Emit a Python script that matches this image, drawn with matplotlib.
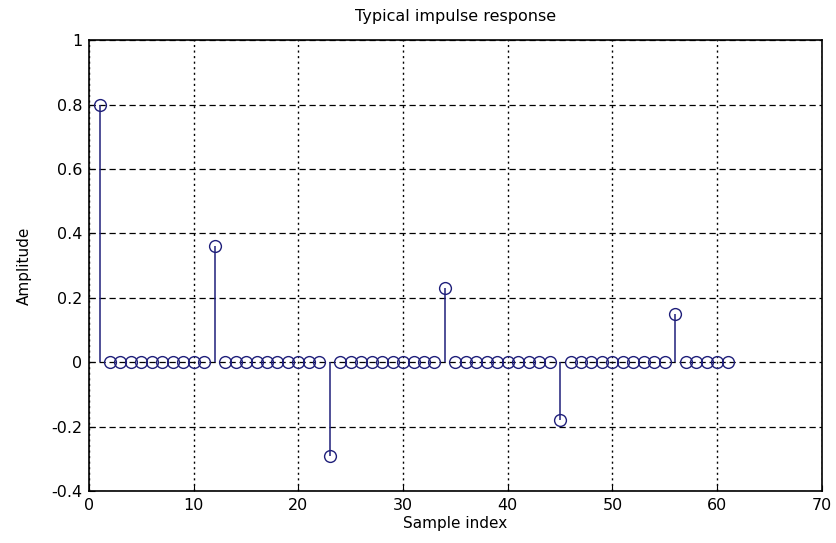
import numpy as np
import matplotlib
matplotlib.use('Agg')
import matplotlib.pyplot as plt

# impulse response samples, index 1..61, mostly zeros
n = np.arange(1, 62)
spike_idx = [1, 12, 23, 34, 45, 56]
spike_val = [0.8, 0.36, -0.29, 0.23, -0.18, 0.15]
h = np.zeros(len(n))
for i, v in zip(spike_idx, spike_val):
    h[i - 1] = v

plt.rcParams['font.family'] = ['DejaVu Sans']
col = '#1f1f7a'

fig = plt.figure(figsize=(8.36, 5.43), dpi=100)
ax = fig.add_axes([0.1065, 0.0958, 0.8765, 0.8302])

markers, stems, base = ax.stem(n, h, basefmt=' ')
plt.setp(stems, color=col, linewidth=1.1)
plt.setp(markers, marker='o', markersize=8.5, markerfacecolor='none',
         markeredgecolor=col, markeredgewidth=1.0)

ax.set_xlim(0, 70)
ax.set_ylim(-0.4, 1)
ax.set_xticks(np.arange(0, 71, 10))
ax.set_yticks([-0.4, -0.2, 0, 0.2, 0.4, 0.6, 0.8, 1])
ax.set_yticklabels(['-0.4', '-0.2', '0', '0.2', '0.4', '0.6', '0.8', '1'])
ax.xaxis.grid(True, color='black', linestyle=(0, (1.5, 2.5)), linewidth=1.0)
ax.yaxis.grid(True, color='black', linestyle=(0, (5, 3)), linewidth=0.9)
ax.tick_params(direction='in', labelsize=11.5, length=4, pad=5)
for s in ax.spines.values():
    s.set_linewidth(1.2)

ax.set_title('Typical impulse response', fontsize=11.5, pad=14)
ax.set_xlabel('Sample index', fontsize=11, labelpad=2)
ax.set_ylabel('Amplitude', fontsize=11, labelpad=14)

fig.savefig('out.png', dpi=100)
